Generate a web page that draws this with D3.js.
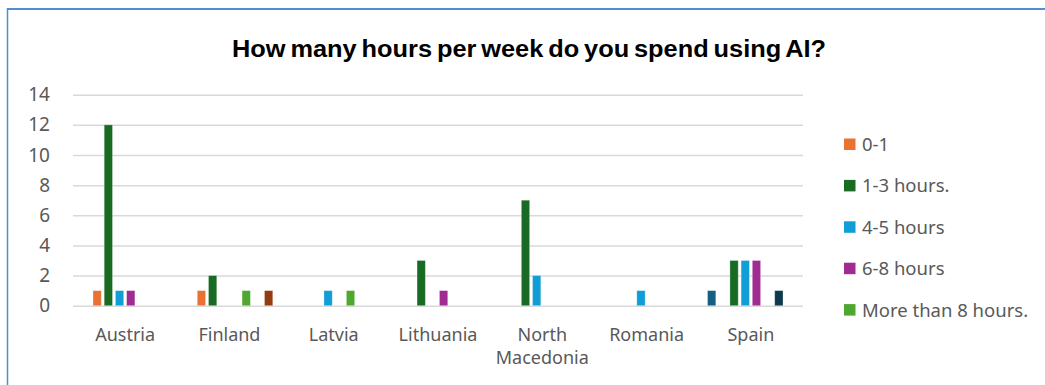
<!DOCTYPE html>
<html>
<head>
<meta charset="utf-8">
<script src="https://cdn.jsdelivr.net/npm/d3@7/dist/d3.min.js"></script>
<style>
  html, body { margin: 0; padding: 0; background: #fff; }
  svg { display: block; }
</style>
</head>
<body>
<svg id="chart" width="1045" height="385"></svg>
<script>
// Survey answers per country, one array per answer option
const countries = ["Austria", "Finland", "Latvia", "Lithuania", "North Macedonia", "Romania", "Spain"];
const seriesNames = ["Series 1", "0-1", "1-3 hours.", "4-5 hours", "6-8 hours", "More than 8 hours.", "Series 7", "Series 8"];
const seriesColors = ["#156082", "#E97132", "#196B24", "#0F9ED5", "#A02B93", "#4EA72E", "#0D3A4E", "#953B14"];
const series1      = [0, 0, 0, 0, 0, 0, 1];
const hours0to1    = [1, 1, 0, 0, 0, 0, 0];
const hours1to3    = [12, 2, 0, 3, 7, 0, 3];
const hours4to5    = [1, 0, 1, 0, 2, 1, 3];
const hours6to8    = [1, 0, 0, 1, 0, 0, 3];
const hoursOver8   = [0, 1, 1, 0, 0, 0, 0];
const series7      = [0, 0, 0, 0, 0, 0, 1];
const series8      = [0, 1, 0, 0, 0, 0, 0];
const legendNames  = ["0-1", "1-3 hours.", "4-5 hours", "6-8 hours", "More than 8 hours."];
const yTicks       = [0, 2, 4, 6, 8, 10, 12, 14];
const titleText    = "How many hours per week do you spend using AI?";

const values = [series1, hours0to1, hours1to3, hours4to5, hours6to8, hoursOver8, series7, series8];

const svg = d3.select("#chart");
const textColor = "#595959";

// chart frame (top and left edges)
svg.append("line").attr("x1", 7).attr("x2", 1045).attr("y1", 9).attr("y2", 9)
  .attr("stroke", "#4D8FD0").attr("stroke-width", 2);
svg.append("line").attr("x1", 7.5).attr("x2", 7.5).attr("y1", 8).attr("y2", 385)
  .attr("stroke", "#4D8FD0").attr("stroke-width", 1.5);

// title
svg.append("text")
  .attr("x", 529).attr("y", 57)
  .attr("text-anchor", "middle")
  .attr("font-family", "Liberation Sans, Arial, sans-serif")
  .attr("font-weight", "bold")
  .attr("font-size", 23.5)
  .attr("textLength", 594)
  .attr("lengthAdjust", "spacingAndGlyphs")
  .attr("word-spacing", -2)
  .attr("fill", "#000")
  .text(titleText);

const plotLeft = 73, plotRight = 803;
const x0 = d3.scaleBand().domain(countries).range([plotLeft, plotRight]).padding(0);
const x1 = d3.scaleBand().domain(seriesNames).range([-44.8, 44.8]).paddingInner(0.26).paddingOuter(0.13);
const y = d3.scaleLinear().domain([0, 14]).range([305.7, 94.7]);

// gridlines and value axis
const yAxis = d3.axisLeft(y).tickValues(yTicks).tickSize(-(plotRight - plotLeft)).tickPadding(23);
const gy = svg.append("g").attr("transform", `translate(${plotLeft},0)`).call(yAxis);
gy.select(".domain").remove();
gy.selectAll(".tick line").attr("stroke", "#D9D9D9").attr("stroke-width", 1.5);
gy.selectAll(".tick text")
  .attr("fill", textColor)
  .attr("font-family", "Noto Sans, Arial, sans-serif")
  .attr("font-size", 19);

// bars
const bars = [];
values.forEach((vals, si) => {
  vals.forEach((v, ci) => {
    if (v > 0) bars.push({ s: seriesNames[si], color: seriesColors[si], c: countries[ci], v });
  });
});
svg.append("g").selectAll("rect").data(bars).join("rect")
  .attr("x", d => x0(d.c) + x0.bandwidth() / 2 + x1(d.s))
  .attr("width", x1.bandwidth())
  .attr("y", d => y(d.v))
  .attr("height", d => y(0) - y(d.v))
  .attr("fill", d => d.color)
  .attr("stroke", "#ffffff")
  .attr("stroke-opacity", 0.35)
  .attr("stroke-width", 0.8);

// category labels (wrapped onto two lines where needed)
const catG = svg.append("g");
countries.forEach(c => {
  const words = c.split(" ");
  const t = catG.append("text")
    .attr("x", x0(c) + x0.bandwidth() / 2)
    .attr("y", 341)
    .attr("text-anchor", "middle")
    .attr("font-family", "Noto Sans, Arial, sans-serif")
    .attr("font-size", 18)
    .attr("fill", textColor);
  words.forEach((w, i) => {
    t.append("tspan").attr("x", x0(c) + x0.bandwidth() / 2).attr("dy", i === 0 ? 0 : 23).text(w);
  });
});

// legend
const legend = svg.append("g");
legendNames.forEach((name, i) => {
  const cy = 144.3 + i * 41.4;
  const color = seriesColors[seriesNames.indexOf(name)];
  legend.append("rect").attr("x", 844).attr("y", cy - 5.8).attr("width", 11.5).attr("height", 11.5).attr("fill", color);
  legend.append("text")
    .attr("x", 862).attr("y", cy)
    .attr("dy", "0.36em")
    .attr("font-family", "Noto Sans, Arial, sans-serif")
    .attr("font-size", 18.5)
    .attr("fill", textColor)
    .text(name);
});
</script>
</body>
</html>
